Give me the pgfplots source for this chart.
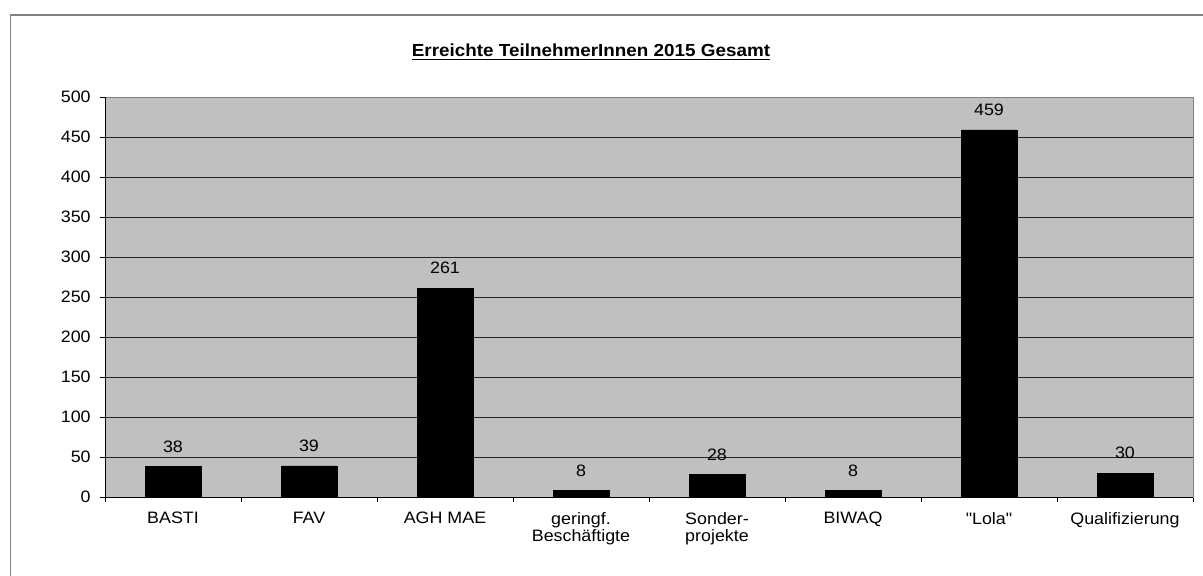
\documentclass[border=0pt]{standalone}
\usepackage{fontspec}
\setmainfont{Liberation Sans}[FakeStretch=1.08, Ligatures=TeXOff]
\usepackage{pgfplots}
\pgfplotsset{compat=1.18}
\definecolor{plotgray}{HTML}{C0C0C0}
\definecolor{framegray}{HTML}{808080}
\begin{document}
\begin{tikzpicture}[x=0.75pt,y=0.75pt]
\useasboundingbox (0,0) rectangle (1203,575);
\begin{scope}
\clip (0,0) rectangle (1203,575);
\draw[framegray, line width=0.9pt] (10.5,-20) rectangle (1230,560);
\end{scope}
\node[anchor=base, inner sep=0pt, font=\bfseries\fontsize{13.1}{15}\selectfont] at (591,518) {\underline{Erreichte TeilnehmerInnen 2015 Gesamt}};
\begin{axis}[
  at={(78.75pt,58.5pt)}, anchor=south west,
  scale only axis, width=816pt, height=300pt,
  xmin=-0.5, xmax=7.5, ymin=0, ymax=500,
  axis background/.style={fill=plotgray},
  axis line style={framegray, line width=0.75pt},
  tick align=outside,
  tick pos=left,
  tick style={black, line width=0.75pt},
  major tick length=3.75pt,
  ytick={0,50,...,500},
  ymajorgrids,
  major grid style={black!85, line width=0.75pt},
  xtick={-0.5,0.5,...,7.5},
  xticklabels={},
  extra x ticks={0,1,2,3,4,5,6,7},
  extra x tick labels={BASTI, FAV, AGH MAE, {geringf.\\Beschäftigte}, {Sonder-\\projekte}, BIWAQ, {"Lola"}, Qualifizierung},
  extra x tick style={major tick length=0pt, grid=none, xticklabel style={align=center, anchor=north, yshift=-8pt, font=\fontsize{12.4}{12.8}\selectfont}},
  y tick label style={font=\fontsize{12.4}{14}\selectfont, xshift=-3.5pt},
  /pgf/number format/assume math mode=true,
  clip=false,
]
\addplot[ybar, fill=black, draw=black, bar width=0.41,
  nodes near coords,
  every node near coord/.append style={font=\fontsize{12.4}{14}\selectfont, yshift=7pt, black}]
  coordinates {(0,38) (1,39) (2,261) (3,8) (4,28) (5,8) (6,459) (7,30)};
\draw[black, line width=0.75pt] (rel axis cs:0,0) -- (rel axis cs:0,1);
\draw[black, line width=0.75pt] (rel axis cs:0,0) -- (rel axis cs:1,0);
\end{axis}
\end{tikzpicture}
\end{document}
